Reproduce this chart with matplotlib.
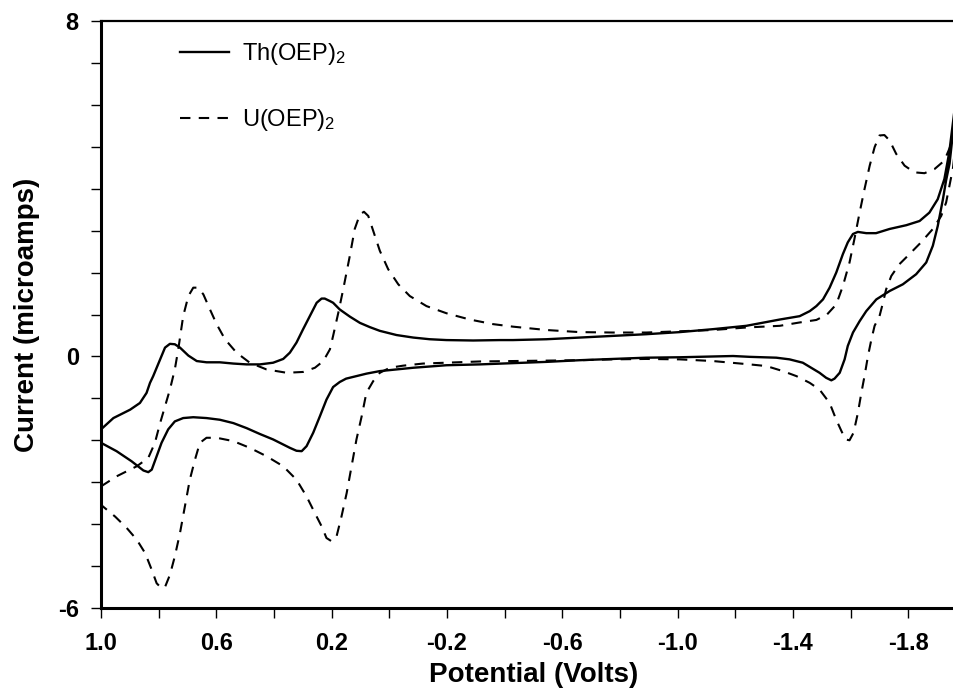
import matplotlib
matplotlib.use('Agg')
import matplotlib.pyplot as plt
from matplotlib.ticker import MultipleLocator, FixedLocator

# (potential V, current uA); forward = 1.0 -> -2.0 V, back = return sweep
th_forward = [(1.0, -1.74), (0.957, -1.47), (0.899, -1.27), (0.865, -1.11), (0.842, -0.87),
              (0.830, -0.63), (0.819, -0.47), (0.795, -0.07), (0.778, 0.21), (0.761, 0.30),
              (0.744, 0.29), (0.726, 0.21), (0.697, 0.02), (0.668, -0.11), (0.634, -0.14),
              (0.588, -0.14), (0.541, -0.17), (0.495, -0.19), (0.449, -0.19), (0.403, -0.15),
              (0.368, -0.06), (0.345, 0.09), (0.322, 0.33), (0.299, 0.65), (0.276, 0.96),
              (0.252, 1.28), (0.235, 1.38), (0.224, 1.38), (0.206, 1.32), (0.195, 1.28),
              (0.172, 1.12), (0.137, 0.95), (0.102, 0.80), (0.068, 0.70), (0.033, 0.61),
              (-0.025, 0.51), (-0.083, 0.45), (-0.140, 0.41), (-0.198, 0.39), (-0.291, 0.38),
              (-0.383, 0.39), (-0.429, 0.39), (-0.545, 0.41), (-0.660, 0.45), (-0.776, 0.49),
              (-0.891, 0.53), (-1.007, 0.58), (-1.122, 0.65), (-1.238, 0.73), (-1.354, 0.88),
              (-1.423, 0.96), (-1.458, 1.08), (-1.481, 1.20), (-1.504, 1.36), (-1.527, 1.64),
              (-1.550, 2.00), (-1.573, 2.44), (-1.590, 2.72), (-1.608, 2.92), (-1.625, 2.97),
              (-1.654, 2.94), (-1.688, 2.94), (-1.735, 3.04), (-1.793, 3.13), (-1.839, 3.23),
              (-1.873, 3.43), (-1.902, 3.75), (-1.925, 4.23), (-1.942, 4.87), (-1.956, 5.66),
              (-1.975, 6.6)]
th_back = [(-1.975, 6.6), (-1.943, 4.6), (-1.931, 4.2), (-1.920, 3.75), (-1.902, 3.11),
           (-1.885, 2.64), (-1.862, 2.24), (-1.827, 1.96), (-1.781, 1.72), (-1.735, 1.56),
           (-1.689, 1.36), (-1.654, 1.08), (-1.631, 0.84), (-1.608, 0.57), (-1.590, 0.25),
           (-1.579, -0.07), (-1.562, -0.39), (-1.544, -0.53), (-1.533, -0.57), (-1.515, -0.51),
           (-1.492, -0.39), (-1.463, -0.27), (-1.434, -0.15), (-1.388, -0.07), (-1.342, -0.03),
           (-1.25, -0.01), (-1.192, 0.01), (-1.007, -0.02), (-0.891, -0.03), (-0.776, -0.06),
           (-0.660, -0.09), (-0.545, -0.13), (-0.429, -0.16), (-0.314, -0.19), (-0.198, -0.21),
           (-0.083, -0.27), (-0.025, -0.31), (0.033, -0.35), (0.079, -0.41), (0.114, -0.47),
           (0.150, -0.53), (0.172, -0.61), (0.195, -0.73), (0.218, -1.03), (0.241, -1.43),
           (0.264, -1.82), (0.287, -2.14), (0.304, -2.26), (0.322, -2.25), (0.345, -2.18),
           (0.403, -1.98), (0.449, -1.85), (0.495, -1.71), (0.541, -1.59), (0.588, -1.51),
           (0.634, -1.47), (0.680, -1.45), (0.715, -1.47), (0.744, -1.55), (0.767, -1.74),
           (0.790, -2.06), (0.807, -2.38), (0.824, -2.70), (0.836, -2.76), (0.853, -2.72),
           (0.894, -2.50), (0.946, -2.26), (1.0, -2.06)]

u_forward = [(1.0, -3.10), (0.946, -2.86), (0.876, -2.62), (0.836, -2.42), (0.813, -2.06),
             (0.795, -1.59), (0.778, -1.19), (0.761, -0.79), (0.744, -0.31), (0.732, 0.17),
             (0.715, 0.96), (0.697, 1.44), (0.680, 1.64), (0.663, 1.64), (0.645, 1.48),
             (0.622, 1.12), (0.599, 0.77), (0.570, 0.41), (0.530, 0.09), (0.484, -0.15),
             (0.426, -0.31), (0.356, -0.39), (0.299, -0.37), (0.258, -0.27), (0.229, -0.11),
             (0.206, 0.17), (0.195, 0.49), (0.177, 1.04), (0.160, 1.60), (0.137, 2.40),
             (0.120, 3.04), (0.102, 3.39), (0.088, 3.45), (0.073, 3.35), (0.056, 3.00),
             (0.033, 2.52), (0.004, 2.08), (-0.031, 1.72), (-0.071, 1.44), (-0.129, 1.20),
             (-0.198, 1.03), (-0.279, 0.88), (-0.360, 0.77), (-0.429, 0.71), (-0.545, 0.63),
             (-0.660, 0.58), (-0.776, 0.57), (-0.891, 0.57), (-1.007, 0.60), (-1.122, 0.63),
             (-1.238, 0.69), (-1.354, 0.73), (-1.423, 0.81), (-1.481, 0.87), (-1.518, 1.00),
             (-1.550, 1.24), (-1.573, 1.68), (-1.596, 2.24), (-1.613, 2.80), (-1.631, 3.43),
             (-1.648, 3.99), (-1.666, 4.55), (-1.683, 4.99), (-1.700, 5.27), (-1.717, 5.28),
             (-1.735, 5.15), (-1.758, 4.83), (-1.787, 4.55), (-1.821, 4.39), (-1.856, 4.37),
             (-1.891, 4.47), (-1.925, 4.67), (-1.942, 4.95), (-1.956, 5.19), (-1.975, 5.8)]
u_back = [(-1.975, 5.8), (-1.955, 4.5), (-1.931, 3.67), (-1.914, 3.35), (-1.885, 3.04),
          (-1.844, 2.72), (-1.804, 2.44), (-1.769, 2.20), (-1.741, 1.92), (-1.723, 1.60),
          (-1.712, 1.28), (-1.700, 0.96), (-1.683, 0.73), (-1.672, 0.41), (-1.660, 0.01),
          (-1.648, -0.47), (-1.637, -0.87), (-1.625, -1.35), (-1.610, -1.82), (-1.596, -2.00),
          (-1.582, -1.98), (-1.568, -1.78), (-1.550, -1.51), (-1.527, -1.11), (-1.492, -0.79),
          (-1.458, -0.63), (-1.412, -0.47), (-1.365, -0.35), (-1.308, -0.23), (-1.25, -0.19),
          (-1.122, -0.11), (-1.007, -0.07), (-0.891, -0.06), (-0.776, -0.07), (-0.660, -0.09),
          (-0.545, -0.10), (-0.429, -0.11), (-0.314, -0.12), (-0.198, -0.15), (-0.117, -0.17),
          (-0.048, -0.22), (-0.002, -0.27), (0.033, -0.39), (0.056, -0.59), (0.073, -0.79),
          (0.082, -0.95), (0.096, -1.43), (0.114, -1.98), (0.131, -2.62), (0.148, -3.26),
          (0.166, -3.82), (0.183, -4.29), (0.200, -4.41), (0.218, -4.33), (0.235, -4.05),
          (0.258, -3.74), (0.287, -3.34), (0.322, -2.94), (0.368, -2.62), (0.426, -2.38),
          (0.484, -2.18), (0.541, -2.02), (0.599, -1.94), (0.634, -1.94), (0.657, -2.06),
          (0.674, -2.46), (0.692, -2.94), (0.709, -3.58), (0.726, -4.21), (0.744, -4.77),
          (0.761, -5.21), (0.778, -5.50), (0.790, -5.53), (0.807, -5.41), (0.824, -5.09),
          (0.847, -4.69), (0.876, -4.37), (0.911, -4.09), (0.951, -3.82), (1.0, -3.54)]

x_major = [1.0, 0.6, 0.2, -0.2, -0.6, -1.0, -1.4, -1.8]
y_major = [-6, 0, 8]

plt.rcParams.update({
    'font.family': ['Liberation Sans', 'DejaVu Sans'],
    'mathtext.default': 'regular',
    'axes.unicode_minus': False,
})

fig = plt.figure(figsize=(9.54, 6.91), dpi=100)
# the original is cropped at about -1.96 V, so the axes run past the right edge
ax = fig.add_axes([101 / 954, 83 / 691, 865 / 954, 587 / 691])

th_v, th_i = zip(*(th_forward + th_back))
u_v, u_i = zip(*(u_forward + u_back))

ax.plot(th_v, th_i, color='black', lw=1.7, solid_joinstyle='round',
        label='Th(OEP)$_2$')
ax.plot(u_v, u_i, color='black', lw=1.5, dashes=(5, 4), label='U(OEP)$_2$')

ax.set_xlim(1.0, -2.0)
ax.set_ylim(-6, 8)

ax.xaxis.set_major_locator(FixedLocator(x_major))
ax.xaxis.set_minor_locator(MultipleLocator(0.2))
ax.set_xticklabels([f'{v:.1f}' for v in x_major])
ax.yaxis.set_major_locator(FixedLocator(y_major))
ax.yaxis.set_minor_locator(MultipleLocator(1))

ax.tick_params(which='both', direction='out', length=7, width=1.0)
ax.tick_params(axis='x', which='major', pad=10, labelsize=17)
ax.tick_params(axis='y', which='major', pad=9, labelsize=17)
for lab in ax.get_xticklabels() + ax.get_yticklabels():
    lab.set_fontweight('bold')

ax.spines['left'].set_linewidth(2.2)
ax.spines['bottom'].set_linewidth(2.2)
ax.spines['top'].set_linewidth(1.6)
ax.spines['right'].set_visible(False)

ax.set_xlabel('Potential (Volts)', fontsize=20, fontweight='bold', labelpad=5)
ax.set_ylabel('Current (microamps)', fontsize=20, fontweight='bold', labelpad=13)

ax.legend(loc='upper left', bbox_to_anchor=(0.091, 0.966), frameon=False,
          fontsize=17, handlelength=2.1, handletextpad=0.55, labelspacing=1.7,
          borderpad=0, borderaxespad=0)

fig.savefig('out.png', dpi=100)
